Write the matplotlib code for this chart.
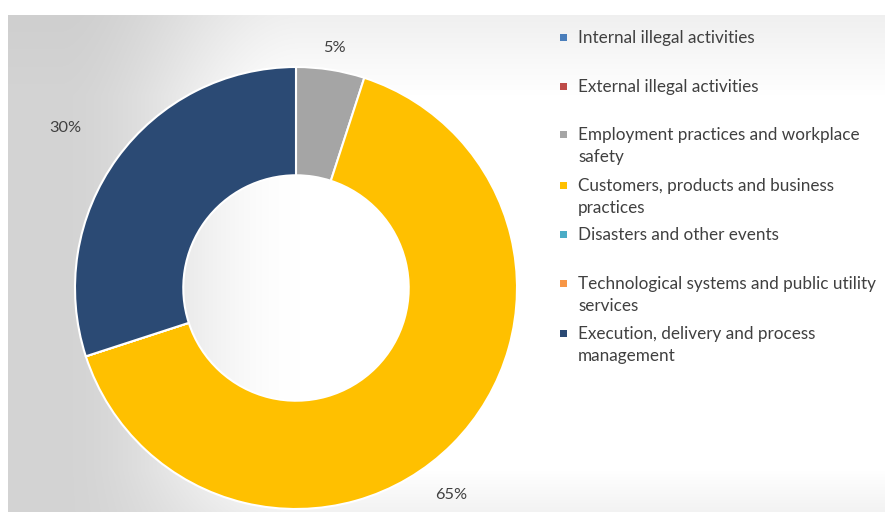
import numpy as np
import matplotlib
matplotlib.use("Agg")
import matplotlib.pyplot as plt
from matplotlib.patches import Rectangle

categories = [
    "Internal illegal activities",
    "External illegal activities",
    "Employment practices and workplace\nsafety",
    "Customers, products and business\npractices",
    "Disasters and other events",
    "Technological systems and public utility\nservices",
    "Execution, delivery and process\nmanagement",
]
values = [0, 0, 5, 65, 0, 0, 30]
pct_labels = ["", "", "5%", "65%", "", "", "30%"]
colors = ["#4A7EBB", "#BE4B48", "#A5A5A5", "#FFC000", "#4BACC6", "#F79646", "#2B4A74"]

plt.rcParams['font.family'] = ['Lato', 'DejaVu Sans']

W, H = 885, 520
fig = plt.figure(figsize=(W / 100, H / 100), dpi=100)
fig.patch.set_facecolor("white")

# background gradient panel
x0, y0, x1, y1 = 8, 15, 885, 512
bg = fig.add_axes([x0 / W, 1 - y1 / H, (x1 - x0) / W, (y1 - y0) / H])
bg.set_axis_off()
yy, xx = np.mgrid[y0:y1, x0:x1].astype(float)
t = np.clip((xx - 60) / (300 - 60), 0, 1)
t = t * t * (3 - 2 * t)
g = 0.83 + 0.17 * t
g -= 0.06 * np.clip(1 - (yy - y0) / 80, 0, 1) * (0.3 + 0.7 * t)
g -= 0.05 * np.clip((yy - 470) / 42, 0, 1) * t
img = np.dstack([g, g, g])
bg.imshow(img, aspect="auto", extent=[0, 1, 0, 1], zorder=0)

cx, cy, R = 296, 288, 221
ax = fig.add_axes([(cx - R) / W, (H - cy - R) / H, 2 * R / W, 2 * R / H])
ax.set_axis_off()
ax.patch.set_alpha(0)
wedges, _ = ax.pie(values, colors=colors, startangle=90, counterclock=False,
                   radius=1.0, wedgeprops=dict(width=0.49, edgecolor="white", linewidth=1.5))
ax.set_xlim(-1, 1)
ax.set_ylim(-1, 1)

label_dist = {"5%": (1.10, 0), "65%": (1.17, -8), "30%": (1.27, 1.2)}
for w, lab in zip(wedges, pct_labels):
    if not lab:
        continue
    dist, off = label_dist[lab]
    ang = np.deg2rad((w.theta1 + w.theta2) / 2 + off)
    ax.text(dist * np.cos(ang), dist * np.sin(ang), lab, ha="center", va="center",
            fontsize=11.8, color="#404040", clip_on=False)

# legend
row_y = [37, 86, 134, 185, 234, 283, 333]
for cat, col, y in zip(categories, colors, row_y):
    fig.patches.append(Rectangle((560 / W, 1 - (y + 4) / H), 7 / W, 7 / H,
                                 transform=fig.transFigure, facecolor=col, edgecolor="none"))
    fig.text(578 / W, 1 - (y - 7) / H, cat, ha="left", va="top", fontsize=12.3,
             color="#404040", linespacing=1.47)

fig.savefig("out.png", dpi=100)
